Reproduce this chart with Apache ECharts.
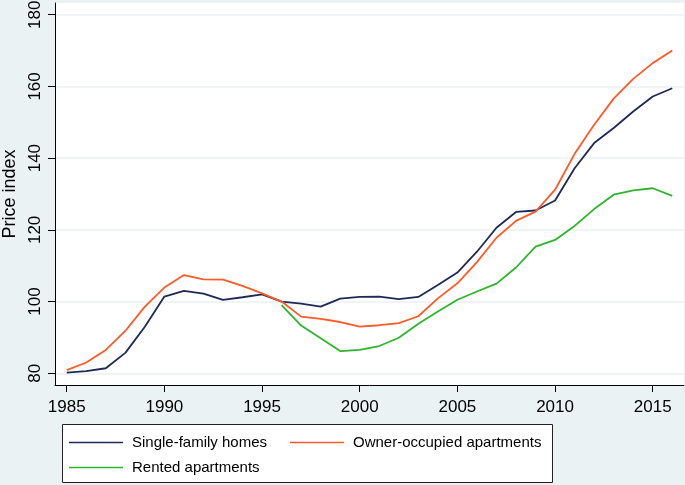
<!DOCTYPE html>
<html>
<head>
<meta charset="utf-8">
<script src="https://cdn.jsdelivr.net/npm/echarts@6/dist/echarts.min.js"></script>
<style>
html,body{margin:0;padding:0;background:#eaf2f3;}
#chart{width:685px;height:485px;}
</style>
</head>
<body>
<div id="chart"></div>
<script>
var years = [1985,1986,1987,1988,1989,1990,1991,1992,1993,1994,1995,1996,1997,1998,1999,2000,2001,2002,2003,2004,2005,2006,2007,2008,2009,2010,2011,2012,2013,2014,2015,2016];
var singleFamily = [80.2,80.6,81.4,85.7,93.0,101.4,103.0,102.2,100.5,101.2,102.0,100.0,99.4,98.6,100.8,101.3,101.4,100.7,101.3,104.6,108.1,113.9,120.6,125.0,125.4,128.2,137.2,144.2,148.4,153.0,157.2,159.5];
var ownerOccupied = [80.9,83.0,86.5,91.8,98.6,103.9,107.4,106.2,106.1,104.4,102.3,100.0,95.8,95.2,94.3,93.0,93.4,94.0,95.9,100.9,105.1,111.0,117.8,122.5,125.1,131.2,141.2,149.3,156.6,162.1,166.5,170.0];
var rentedYears = [1996,1997,1998,1999,2000,2001,2002,2003,2004,2005,2006,2007,2008,2009,2010,2011,2012,2013,2014,2015,2016];
var rented = [99.0,93.3,89.8,86.2,86.5,87.6,89.9,93.8,97.2,100.5,102.8,105.0,109.5,115.3,117.2,121.1,125.8,129.8,131.0,131.6,129.5];
var xTicks = [1985,1990,1995,2000,2005,2010,2015];
var yTicks = [80,100,120,140,160,180];
var seriesNames = ['Single-family homes','Owner-occupied apartments','Rented apartments'];
var colors = ['#1c2a58','#fe5a28','#2db52d'];

function pairs(xs, ys){ return xs.map(function(x,i){ return [x, ys[i]]; }); }

var chart = echarts.init(document.getElementById('chart'), null, {renderer:'canvas'});
var font = 'Liberation Sans, Arial, sans-serif';
function legendFor(i, left, top){
  return {
    data:[seriesNames[i]], left:left, top:top, padding:0, orient:'horizontal',
    itemWidth:54, itemHeight:14, icon:'path://M0,0L54,0L54,1.7L0,1.7Z',
    textStyle:{fontFamily:font, fontSize:15, color:'#000', padding:[0,0,0,4]},
    selectedMode:false
  };
}
chart.setOption({
  backgroundColor:'#eaf2f3',
  animation:false,
  grid:{left:55, top:3, right:1, bottom:100, show:true, backgroundColor:'#ffffff', borderWidth:0, containLabel:false, outerBoundsMode:'none'},
  graphic:[{type:'rect', shape:{x:62.5, y:424.5, width:490, height:58}, style:{fill:'#ffffff', stroke:'#222', lineWidth:1}, z:-1}],
  legend:[legendFor(0,69,435), legendFor(1,290,435), legendFor(2,69,460)],
  xAxis:{
    type:'value', min:1984.4, max:2016.6,
    axisLine:{show:true, onZero:false, lineStyle:{color:'#000', width:1}},
    axisTick:{show:true, length:7, customValues:xTicks, lineStyle:{color:'#000', width:1}},
    axisLabel:{customValues:xTicks, margin:14, fontFamily:font, fontSize:17, color:'#000', formatter:function(v){return String(v);}},
    splitLine:{show:false}
  },
  yAxis:{
    type:'value', min:76.73, max:183.27,
    name:'Price index', nameLocation:'middle', nameGap:36,
    nameTextStyle:{fontFamily:font, fontSize:18, color:'#000'},
    axisLine:{show:true, onZero:false, lineStyle:{color:'#000', width:1}},
    axisTick:{show:true, length:7, customValues:yTicks, lineStyle:{color:'#000', width:1}},
    axisLabel:{customValues:yTicks, rotate:90, margin:11, fontFamily:font, fontSize:17, color:'#000', formatter:function(v){return String(v);}},
    splitLine:{show:true, lineStyle:{color:'#eaf2f3', width:1.5}}
  },
  series:[
    {name:seriesNames[0], type:'line', data:pairs(years, singleFamily), symbol:'none', lineStyle:{color:colors[0], width:1.8}, itemStyle:{color:colors[0]}, z:3},
    {name:seriesNames[1], type:'line', data:pairs(years, ownerOccupied), symbol:'none', lineStyle:{color:colors[1], width:1.8}, itemStyle:{color:colors[1]}, z:4},
    {name:seriesNames[2], type:'line', data:pairs(rentedYears, rented), symbol:'none', lineStyle:{color:colors[2], width:1.8}, itemStyle:{color:colors[2]}, z:2}
  ]
});
</script>
</body>
</html>
